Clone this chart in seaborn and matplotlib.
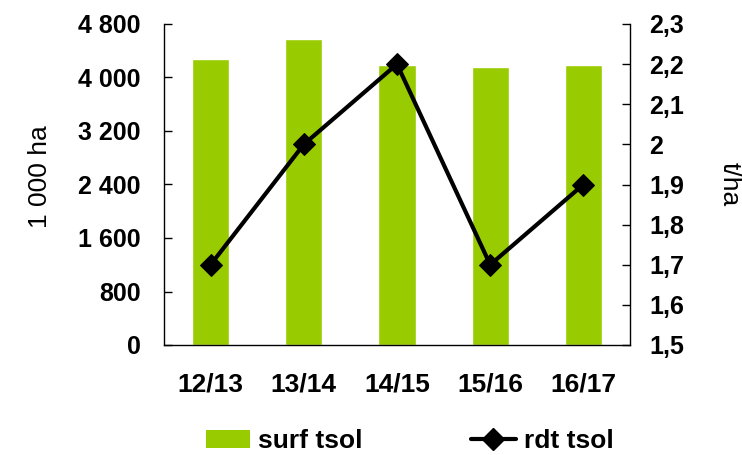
import matplotlib
matplotlib.use("Agg")
import matplotlib.pyplot as plt
import seaborn as sns
import pandas as pd
from matplotlib.lines import Line2D
from matplotlib.patches import Patch

campaigns = ["12/13", "13/14", "14/15", "15/16", "16/17"]
surf_tsol = [4280, 4580, 4190, 4160, 4190]
rdt_tsol = [1.7, 2.0, 2.2, 1.7, 1.9]
left_ticks = [0, 800, 1600, 2400, 3200, 4000, 4800]
left_labels = ["0", "800", "1 600", "2 400", "3 200", "4 000", "4 800"]
right_ticks = [1.5, 1.6, 1.7, 1.8, 1.9, 2.0, 2.1, 2.2, 2.3]
right_labels = ["1,5", "1,6", "1,7", "1,8", "1,9", "2", "2,1", "2,2", "2,3"]

sns.set_style("white")
plt.rcParams['font.family'] = ['Liberation Sans', 'DejaVu Sans']
plt.rcParams['text.color'] = 'black'

df = pd.DataFrame({"campagne": campaigns, "surf": surf_tsol, "rdt": rdt_tsol})

fig = plt.figure(figsize=(7.42, 4.55), dpi=100)
ax = fig.add_axes([164/742, 1-345/455, (630-164)/742, (345-24)/455])
green = "#99CC00"
sns.barplot(data=df, x="campagne", y="surf", color=green, width=0.4,
            saturation=1, ax=ax)
ax.set_ylim(0, 4800)
ax.set_yticks(left_ticks)
ax.set_yticklabels(left_labels, fontsize=18, fontweight="bold", color="black")
ax.set_xlim(-0.5, 4.5)
for lab in ax.get_xticklabels():
    lab.set_fontsize(19)
    lab.set_fontweight("bold")
    lab.set_color("black")
ax.set_xlabel("")
ax.set_ylabel("1 000 ha", fontsize=19, color="black")
ax.yaxis.set_label_coords(-0.240, 0.523)
ax.tick_params(axis="y", direction="in", length=6, width=1, pad=17, colors="black")
ax.tick_params(axis="x", length=0, pad=20, colors="black")
for s in ["top", "right"]:
    ax.spines[s].set_visible(False)
for s in ["left", "bottom"]:
    ax.spines[s].set_color("black")
    ax.spines[s].set_linewidth(1)

ax2 = ax.twinx()
sns.lineplot(x=list(range(len(campaigns))), y=df["rdt"], ax=ax2, color="black",
             linewidth=3, marker="D", markersize=11, markeredgecolor="black")
ax2.set_ylim(1.5, 2.3)
ax2.set_yticks(right_ticks)
ax2.set_yticklabels(right_labels, fontsize=18, fontweight="bold", color="black")
ax2.set_ylabel("t/ha", fontsize=19, rotation=270, color="black", va="center")
ax2.yaxis.set_label_coords(1.2146, 0.5)
ax2.tick_params(axis="y", direction="in", length=6, width=1, pad=14, colors="black")
for s in ["top", "left", "bottom"]:
    ax2.spines[s].set_visible(False)
ax2.spines["right"].set_color("black")
ax2.spines["right"].set_linewidth(1)
ax2.set_xlim(-0.5, 4.5)

handles = [Patch(facecolor=green, edgecolor="none", label="surf tsol"),
           Line2D([0], [0], color="black", linewidth=3, marker="D", markersize=11,
                  label="rdt tsol")]
fig.legend(handles=handles, loc="center", bbox_to_anchor=(0.552, 1-441/455), ncol=2,
           frameon=False, prop={"size": 19, "weight": "bold"}, columnspacing=4.1,
           handlelength=1.7, handletextpad=0.3, borderaxespad=0, borderpad=0)

fig.savefig("out.png", dpi=100)
